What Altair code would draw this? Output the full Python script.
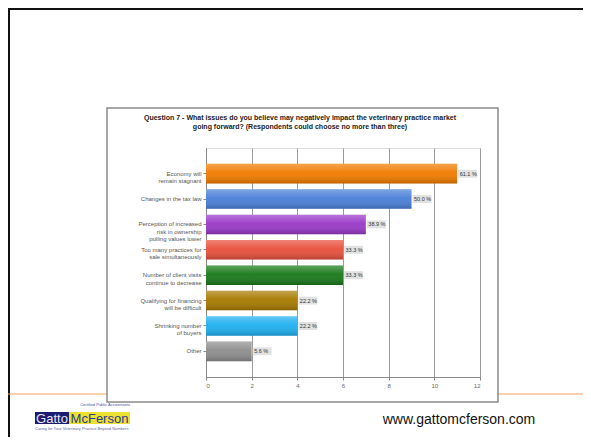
import altair as alt
import pandas as pd

# ---------------- data ----------------
categories = [
    "Economy will|remain stagnant",
    "Changes in the tax law",
    "Perception of increased|risk in ownership|pulling values lower",
    "Too many practices for|sale simultaneously",
    "Number of client visits|continue to decrease",
    "Qualifying for financing|will be difficult",
    "Shrinking number|of buyers",
    "Other",
]
counts = [11, 9, 7, 6, 6, 4, 4, 2]
pct_labels = ["61.1 %", "50.0 %", "38.9 %", "33.3 %", "33.3 %", "22.2 %", "22.2 %", "5.6 %"]
bar_colors = ["#f27c00", "#4a80d8", "#9a3ac8", "#e8503c", "#1a7a1a", "#a87a00", "#20b0f0", "#8e8e8e"]
x_ticks = [0, 2, 4, 6, 8, 10, 12]

title_line1 = "Question 7 - What issues do you believe may negatively impact the veterinary practice market"
title_line2 = "going forward?  (Respondents could choose no more than three)"
url_text = "www.gattomcferson.com"
logo_top = "Certified Public Accountants"
logo_left = "Gatto"
logo_right = "McFerson"
logo_bottom = "Caring for Your Veterinary Practice Beyond Numbers"

df = pd.DataFrame({"issue": categories, "count": counts, "label": pct_labels})

W, H = 274, 229
FONT = "Liberation Sans"

y_enc = alt.Y(
    "issue:N",
    sort=categories,
    scale=alt.Scale(domain=categories, paddingInner=0.23, paddingOuter=0.625),
    axis=alt.Axis(
        title=None,
        labelExpr="split(datum.label, '|')",
        labelFontSize=6,
        labelColor="#555555",
        labelLineHeight=7.5,
        labelFont=FONT,
        labelLimit=0,
        labelPadding=2,
        tickSize=3,
        tickColor="#888888",
        domainColor="#888888",
    ),
)
x_enc = alt.X(
    "count:Q",
    scale=alt.Scale(domain=[0, 12], nice=False),
    axis=alt.Axis(
        title=None,
        values=x_ticks,
        grid=True,
        gridColor="#9a9a9a",
        gridWidth=1,
        tickSize=3,
        tickColor="#888888",
        domainColor="#888888",
        labelFontSize=6,
        labelColor="#666666",
        labelFont=FONT,
        labelPadding=2,
    ),
)

one = alt.Data(values=[{}])


def rule(x, x2, y, y2, color, width):
    return alt.Chart(one).mark_rule(color=color, strokeWidth=width).encode(
        x=alt.value(x), x2=alt.value(x2), y=alt.value(y), y2=alt.value(y2)
    )


def box(x, x2, y, y2, fill):
    return alt.Chart(one).mark_rect(fill=fill).encode(
        x=alt.value(x), x2=alt.value(x2), y=alt.value(y), y2=alt.value(y2)
    )


def text(x, y, s, size, color, weight="normal", align="center", font=FONT):
    return alt.Chart(one).mark_text(
        fontSize=size, color=color, fontWeight=weight, align=align, baseline="middle", font=font
    ).encode(x=alt.value(x), y=alt.value(y), text=alt.value(s))


# slide decorations (pixel positions relative to the plot area origin)
frame = alt.Chart(one).mark_rect(filled=False, stroke="#8a8a8a", strokeWidth=1.5).encode(
    x=alt.value(-99), x2=alt.value(292), y=alt.value(-40), y2=alt.value(254)
)
deco = [
    rule(-198, 377, -139, -139, "#111111", 2),
    rule(-197, -197, -140, 289, "#111111", 2),
    rule(-198, -99, 246, 246, "#f6a35a", 1),
    rule(292, 377, 246, 246, "#f6a35a", 1),
    frame,
    text(94, -30, title_line1, 7, "#222222", "bold"),
    text(94, -21.5, title_line2, 7, "#222222", "bold"),
    text(253, 272, url_text, 14, "#111111"),
    text(-76, 257, logo_top, 4, "#4a56a6", align="right"),
    box(-171, -137, 264, 276, "#1c1c72"),
    box(-137, -76, 264, 276, "#ece030"),
    text(-154, 270.5, logo_left, 13, "#e8e8f4"),
    text(-106.5, 270.5, logo_right, 13, "#2a3a9c"),
    text(-171, 281, logo_bottom, 4, "#5a66a6", align="left"),
]

bars = alt.Chart(df).mark_bar(strokeWidth=0).encode(
    x=x_enc,
    y=y_enc,
    color=alt.Color("issue:N", scale=alt.Scale(domain=categories, range=bar_colors), legend=None),
)
gloss = alt.Chart(df).mark_bar(
    color={
        "gradient": "linear",
        "x1": 0, "y1": 0, "x2": 0, "y2": 1,
        "stops": [
            {"offset": 0, "color": "rgba(255,255,255,0.30)"},
            {"offset": 0.45, "color": "rgba(255,255,255,0.04)"},
            {"offset": 1, "color": "rgba(0,0,0,0.20)"},
        ],
    }
).encode(x="count:Q", y=alt.Y("issue:N", sort=categories))

label_bg = alt.Chart(df).mark_bar(color="#e2e2e2", size=8, xOffset=1, x2Offset=20).encode(
    x="count:Q", x2="count:Q", y=alt.Y("issue:N", sort=categories)
)
labels = alt.Chart(df).mark_text(
    align="left", baseline="middle", dx=2.5, fontSize=5.5, color="#333333", font=FONT
).encode(x="count:Q", y=alt.Y("issue:N", sort=categories), text="label:N")

chart = (
    alt.layer(*deco, bars, gloss, label_bg, labels)
    .properties(
        width=W,
        height=H,
        autosize=alt.AutoSizeParams(type="none"),
        padding={"left": 198, "top": 140, "right": 103, "bottom": 60},
        background="white",
    )
    .configure_view(strokeWidth=0)
    .configure(font=FONT)
)

chart.save("out.html", embed_options={"renderer": "svg", "actions": False})
